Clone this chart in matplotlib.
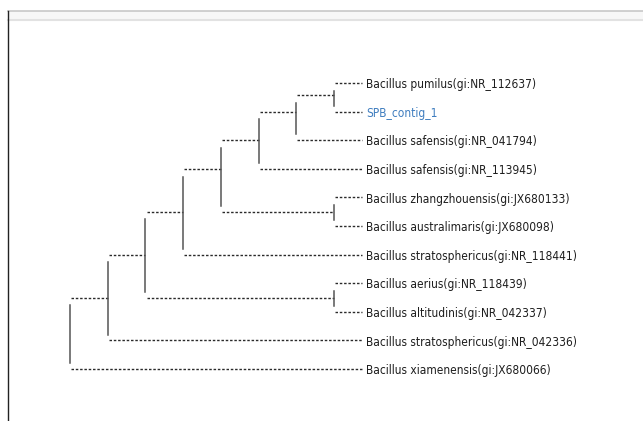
import matplotlib
matplotlib.use('Agg')
import matplotlib.pyplot as plt
from matplotlib.lines import Line2D
from matplotlib.patches import Rectangle

# leaves, top to bottom
leaf_names = [
    'Bacillus pumilus(gi:NR_112637)',
    'SPB_contig_1',
    'Bacillus safensis(gi:NR_041794)',
    'Bacillus safensis(gi:NR_113945)',
    'Bacillus zhangzhouensis(gi:JX680133)',
    'Bacillus australimaris(gi:JX680098)',
    'Bacillus stratosphericus(gi:NR_118441)',
    'Bacillus aerius(gi:NR_118439)',
    'Bacillus altitudinis(gi:NR_042337)',
    'Bacillus stratosphericus(gi:NR_042336)',
    'Bacillus xiamenensis(gi:JX680066)',
]
query_name = 'SPB_contig_1'
leaf_depth = 7.75

# internal nodes (cladogram): depth = column, row = vertical position
node_names = ['root', 'n1', 'n2', 'n3', 'n4', 'n5', 'n6', 'n7', 'nz', 'na']
node_depth = [0, 1, 2, 3, 4, 5, 6, 7, 7, 7]
node_row = [8.75, 7.5, 6.0, 4.5, 3.0, 2.0, 1.0, 0.42, 4.5, 7.5]
# children: str = internal node, int = leaf index
node_children = [
    ['n1', 10],
    ['n2', 9],
    ['n3', 'na'],
    ['n4', 6],
    ['n5', 'nz'],
    ['n6', 3],
    ['n7', 2],
    [0, 1],
    [4, 5],
    [7, 8],
]

DOT = (0, (1.8, 1.3))
px_per_depth = 37.7
px_per_row = 28.6
x0_px, y0_px = 70, 83
W, H = 643, 421


def child_pos(c):
    if isinstance(c, int):
        return leaf_depth, c
    i = node_names.index(c)
    return node_depth[i], node_row[i]


def draw_tree(ax):
    for i, name in enumerate(node_names):
        x = node_depth[i]
        ys = []
        for c in node_children[i]:
            cx, cy = child_pos(c)
            ys.append(cy)
            ax.plot([x + 0.03, cx], [cy, cy], color='#2a2a2a', lw=1.0,
                    linestyle=DOT, solid_capstyle='butt')
        ax.plot([x, x], [min(ys) + 0.27, max(ys) - 0.2], color='#555555', lw=1.1)

    for i, name in enumerate(leaf_names):
        color = '#3f7dbf' if name == query_name else '#1e1e1e'
        ax.text(leaf_depth + 0.1, i + 0.06, name, color=color, fontsize=8.6,
                fontstretch='condensed', va='center', ha='left')


fig = plt.figure(figsize=(W / 100, H / 100), dpi=100)
fig.patch.set_facecolor('white')

# window chrome: header band and left border
fig.patches.append(Rectangle((8 / W, 1 - 20 / H), 1, 9 / H, transform=fig.transFigure,
                             facecolor='#f7f7f7', edgecolor='none'))
fig.lines.append(Line2D([8 / W, 1], [1 - 11 / H, 1 - 11 / H], transform=fig.transFigure,
                        color='#c8c8c8', lw=1.2))
fig.lines.append(Line2D([8 / W, 1], [1 - 20 / H, 1 - 20 / H], transform=fig.transFigure,
                        color='#e2e2e2', lw=1.5))
fig.lines.append(Line2D([8 / W, 8 / W], [0, 1 - 11 / H], transform=fig.transFigure,
                        color='#222222', lw=1.0))

ax = fig.add_axes([0, 0, 1, 1])
ax.set_xlim(-x0_px / px_per_depth, (W - x0_px) / px_per_depth)
ax.set_ylim((H - y0_px) / px_per_row, -y0_px / px_per_row)
ax.axis('off')

draw_tree(ax)

plt.savefig('out.png', dpi=100)
